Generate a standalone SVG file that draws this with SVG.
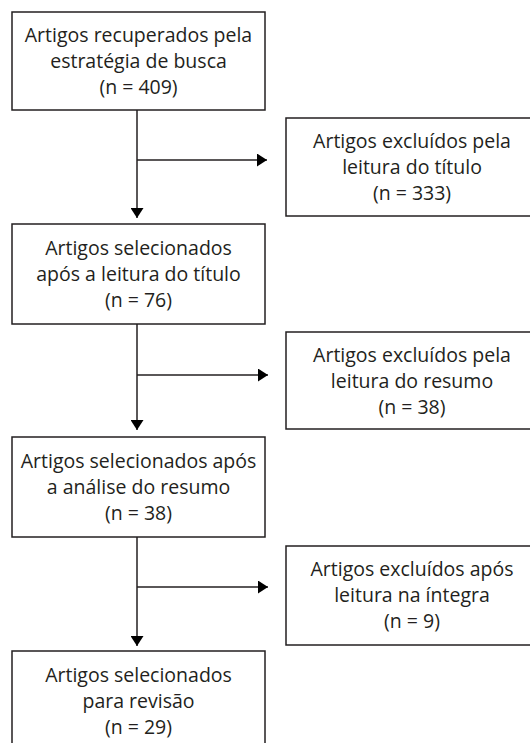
<svg xmlns="http://www.w3.org/2000/svg" width="530" height="743" viewBox="0 0 530 743">
<style>
.box{fill:#fff;stroke:#231f20;stroke-width:1.5}
.t{font-family:"Open Sans","Liberation Sans",sans-serif;font-size:19.5px;fill:#231f20;text-anchor:middle}
.c{fill:none;stroke:#231f20;stroke-width:1.5}
</style>
<defs>
<marker id="ah" markerUnits="userSpaceOnUse" markerWidth="11" markerHeight="13" refX="10" refY="6.5" orient="auto">
<path d="M0,0 L10,6.5 L0,13 z" fill="#000"/>
</marker>
</defs>
<g id="connectors">
<line class="c" x1="137" y1="110" x2="137" y2="218" marker-end="url(#ah)"/>
<line class="c" x1="137" y1="160" x2="267" y2="160" marker-end="url(#ah)"/>
<line class="c" x1="137" y1="324" x2="137" y2="430" marker-end="url(#ah)"/>
<line class="c" x1="137" y1="375" x2="268" y2="375" marker-end="url(#ah)"/>
<line class="c" x1="137" y1="537" x2="137" y2="646" marker-end="url(#ah)"/>
<line class="c" x1="137" y1="587" x2="268" y2="587" marker-end="url(#ah)"/>
</g>
<g id="n1">
<rect class="box" x="12" y="12" width="253" height="98"/>
<text class="t" x="138.5" y="42">Artigos recuperados pela</text>
<text class="t" x="138.5" y="68">estratégia de busca</text>
<text class="t" x="138.5" y="94">(n = 409)</text>
</g>
<g id="e1">
<rect class="box" x="286" y="118" width="252" height="98"/>
<text class="t" x="412" y="148">Artigos excluídos pela</text>
<text class="t" x="412" y="174">leitura do título</text>
<text class="t" x="412" y="200">(n = 333)</text>
</g>
<g id="n2">
<rect class="box" x="12" y="224" width="253" height="100"/>
<text class="t" x="138.5" y="255">Artigos selecionados</text>
<text class="t" x="138.5" y="281">após a leitura do título</text>
<text class="t" x="138.5" y="307">(n = 76)</text>
</g>
<g id="e2">
<rect class="box" x="286" y="332" width="252" height="97"/>
<text class="t" x="412" y="362">Artigos excluídos pela</text>
<text class="t" x="412" y="388">leitura do resumo</text>
<text class="t" x="412" y="414">(n = 38)</text>
</g>
<g id="n3">
<rect class="box" x="12" y="437" width="253" height="100"/>
<text class="t" x="138.5" y="468">Artigos selecionados após</text>
<text class="t" x="138.5" y="494">a análise do resumo</text>
<text class="t" x="138.5" y="520">(n = 38)</text>
</g>
<g id="e3">
<rect class="box" x="286" y="546" width="252" height="99"/>
<text class="t" x="412" y="576">Artigos excluídos após</text>
<text class="t" x="412" y="602">leitura na íntegra</text>
<text class="t" x="412" y="628">(n = 9)</text>
</g>
<g id="n4">
<rect class="box" x="12" y="651" width="253" height="100"/>
<text class="t" x="138.5" y="682">Artigos selecionados</text>
<text class="t" x="138.5" y="708">para revisão</text>
<text class="t" x="138.5" y="734">(n = 29)</text>
</g>
</svg>
